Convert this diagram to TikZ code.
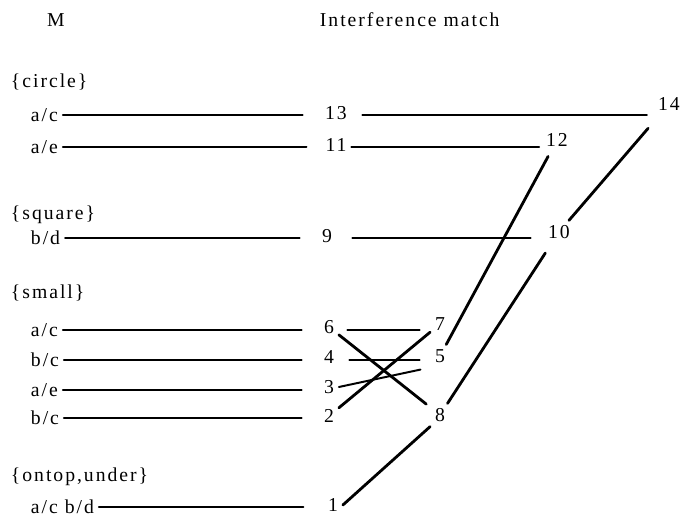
\documentclass[tikz,border=0pt]{standalone}
\usepackage{fontspec}
\setmainfont{Liberation Serif}[LetterSpace=10]

\begin{document}
\begin{tikzpicture}[
    x=0.025cm, y=-0.025cm,
    line cap=round,
    font=\fontsize{14}{17}\selectfont,
    lbl/.style={anchor=west},
    link/.style={line width=1.4pt, shorten >=12.5pt},
    jump/.style={line width=1.4pt},
    slant/.style={line width=2pt}
]
    \useasboundingbox (0,0) rectangle (680,521);

    % Headings
    \node (hM) at (56,20) {M};
    \node[lbl] (hI) at (315,20) {Interference match};

    % Groups of M
    \node[lbl] (gcircle) at (6,82)  {\{circle\}};
    \node[lbl] (gsquare) at (6,215) {\{square\}};
    \node[lbl] (gsmall)  at (6,293) {\{small\}};
    \node[lbl] (gontop)  at (6,477) {\{ontop,under\}};

    % Rows of M
    \node[lbl] (m13) at (26,115) {a/c};
    \node[lbl] (m11) at (26,147) {a/e};
    \node[lbl] (m9)  at (26,238) {b/d};
    \node[lbl] (m6)  at (26,330) {a/c};
    \node[lbl] (m4)  at (26,360) {b/c};
    \node[lbl] (m3)  at (26,390) {a/e};
    \node[lbl] (m2)  at (26,418) {b/c};
    \node[lbl] (m1)  at (26,507) {a/c b/d};

    % Interference match, first column
    \node (n13) at (336,113) {13};
    \node (n11) at (336,145) {11};
    \node (n9)  at (327,236) {9};
    \node (n6)  at (329,327) {6};
    \node (n4)  at (329,357) {4};
    \node (n3)  at (329,387) {3};
    \node (n2)  at (329,416) {2};
    \node (n1)  at (333,505) {1};

    % Interference match, further columns
    \node (n7)  at (440,324) {7};
    \node (n5)  at (440,356) {5};
    \node (n8)  at (440,415) {8};
    \node (n12) at (557,140) {12};
    \node (n10) at (559,232) {10};
    \node (n14) at (669,104) {14};

    % M to the first column
    \foreach \r in {13,9,6,4,3,2}
        \draw[link] (m\r.east) -- (m\r.east -| n\r.west);
    \draw[link, shorten >=10pt] (m11.east) -- (m11.east -| n11.west);
    \draw[link, shorten >=14pt] (m1.east) -- (m1.east -| n1.west);

    % Horizontal matches
    \draw[jump, shorten <=7.5pt, shorten >=4.5pt] (m13.east -| n13.east) -- (m13.east -| n14.west);
    \draw[jump, shorten >=1.4pt] (m11.east -| n11.east) -- (m11.east -| n12.west);
    \draw[jump, shorten <=11pt, shorten >=9pt] (m9.east -| n9.east) -- (m9.east -| n10.west);
    \draw[jump, shorten <=6pt, shorten >=7.5pt] (m6.east -| n6.east) -- (m6.east -| n7.west);
    \draw[jump, shorten <=7.5pt, shorten >=7.5pt] (m4.east -| n4.east) -- (m4.east -| n5.west);

    % Crossing matches
    \draw[slant, shorten >=3.5pt] (n6) -- (n8);
    \draw[slant] (n2) -- (n7);
    \draw[slant, line width=1.4pt, shorten >=7pt] (n3.east) -- (n5.south west);
    \draw[slant] (n1.east) -- (n8.south west);
    \draw[slant, shorten >=4pt] (n5) -- (n12);
    \draw[slant, shorten >=8pt] (n8) -- (n10);
    \draw[slant, shorten >=12pt] (n10) -- (n14);

\end{tikzpicture}
\end{document}
